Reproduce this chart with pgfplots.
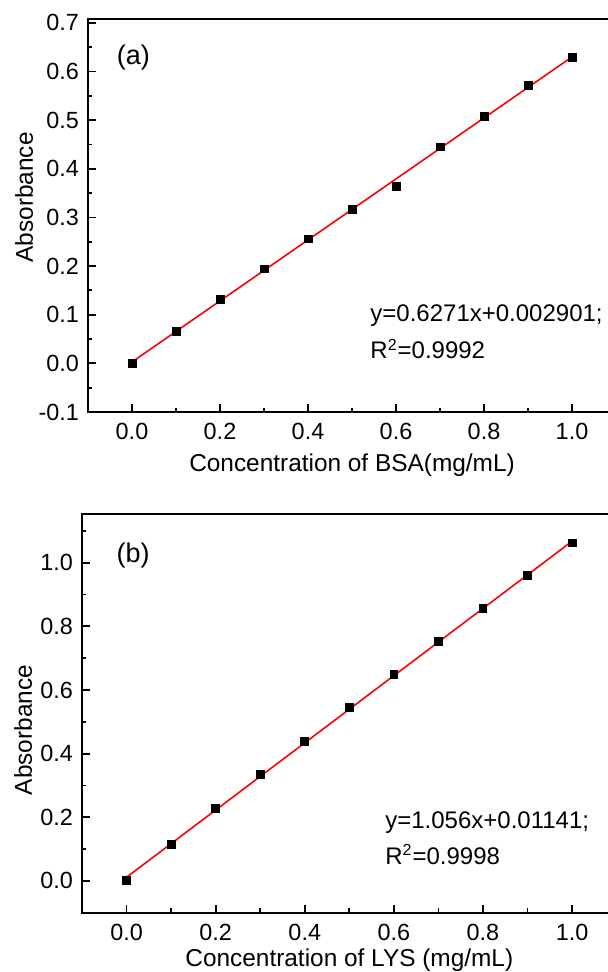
\documentclass[border=0pt]{standalone}
\usepackage{fontspec}
\setmainfont{Liberation Sans}
\usepackage{pgfplots}
\pgfplotsset{compat=1.18}

\pgfplotsset{
  calib/.style={
    scale only axis, anchor=south west,
    xmin=-0.1, xmax=1.1,
    xtick={0,0.2,0.4,0.6,0.8,1.0},
    minor xtick={0.1,0.3,0.5,0.7,0.9},
    tick pos=left, tick align=inside,
    major tick length=4pt, minor tick length=2.2pt,
    tick style={black, line width=0.9pt},
    axis line style={line width=1pt},
    /pgf/number format/assume math mode=true,
    /pgf/number format/fixed,
    /pgf/number format/fixed zerofill,
    /pgf/number format/precision=1,
    tick label style={font=\fontsize{11.7}{13}\selectfont},
    xticklabel style={yshift=-2pt},
    yticklabel style={xshift=-1pt},
    label style={font=\fontsize{12.2}{14}\selectfont},
    ylabel=Absorbance,
  },
  pts/.style={only marks, mark=square*, mark size=1.95pt, black},
  fit/.style={no marks, red, line width=0.8pt},
}

\begin{document}
\begin{tikzpicture}
\useasboundingbox (0,0) rectangle (304pt,486pt);
\clip (0,0) rectangle (304pt,486pt);

% (a) BSA
\begin{axis}[calib,
  at={(44pt,280pt)}, width=264pt, height=196.5pt,
  ymin=-0.1, ymax=0.708,
  ytick={-0.1,0,0.1,0.2,0.3,0.4,0.5,0.6,0.7},
  minor ytick={-0.05,0.05,0.15,0.25,0.35,0.45,0.55,0.65},
  xlabel={Concentration of BSA(mg/mL)},
  xlabel style={at={(axis description cs:0.5,-0.135)}, anchor=center},
  ylabel style={at={(axis description cs:-0.121,0.546)}, anchor=center},
]
\addplot[pts] coordinates {
  (0,0.000) (0.1,0.065) (0.2,0.131) (0.3,0.194) (0.4,0.256) (0.5,0.317)
  (0.6,0.363) (0.7,0.445) (0.8,0.507) (0.9,0.572) (1.0,0.629)
};
\addplot[fit] coordinates {(0,0.002901) (1,0.630001)};
\node[anchor=center, font=\fontsize{13.5}{15}\selectfont] at (axis cs:0.003,0.628) {(a)};
\node[anchor=west, inner sep=0pt, font=\fontsize{12}{14}\selectfont] at (axis cs:0.541,0.098) {y=0.6271x+0.002901;};
\node[anchor=west, inner sep=0pt, font=\fontsize{12}{14}\selectfont] at (axis cs:0.541,0.0296) {R\textsuperscript{2}=0.9992};
\end{axis}

% (b) LYS
\begin{axis}[calib,
  at={(41pt,29.65pt)}, width=267.3pt, height=199.5pt,
  ymin=-0.1, ymax=1.154,
  ytick={0,0.2,0.4,0.6,0.8,1.0},
  minor ytick={-0.1,0.1,0.3,0.5,0.7,0.9,1.1},
  xlabel={Concentration of LYS (mg/mL)},
  xlabel style={at={(axis description cs:0.5,-0.12)}, anchor=center},
  ylabel style={at={(axis description cs:-0.110,0.458)}, anchor=center},
]
\addplot[pts] coordinates {
  (0,0.002) (0.1,0.115) (0.2,0.228) (0.3,0.334) (0.4,0.438) (0.5,0.544)
  (0.6,0.648) (0.7,0.753) (0.8,0.857) (0.9,0.960) (1.0,1.062)
};
\addplot[fit] coordinates {(0,0.01141) (1,1.06741)};
\node[anchor=center, font=\fontsize{13.5}{15}\selectfont] at (axis cs:0.015,1.023) {(b)};
\node[anchor=west, inner sep=0pt, font=\fontsize{12}{14}\selectfont] at (axis cs:0.58,0.182) {y=1.056x+0.01141;};
\node[anchor=west, inner sep=0pt, font=\fontsize{12}{14}\selectfont] at (axis cs:0.58,0.083) {R\textsuperscript{2}=0.9998};
\end{axis}
\end{tikzpicture}
\end{document}
